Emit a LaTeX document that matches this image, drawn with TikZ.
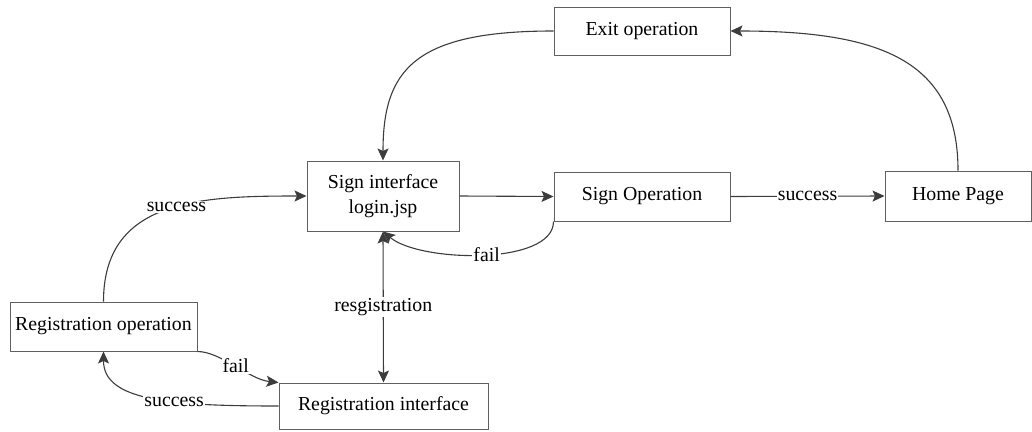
\documentclass[tikz,border=0pt]{standalone}
\usepackage{fontspec}
\setmainfont{Liberation Serif}
\usetikzlibrary{arrows.meta}
\definecolor{edgecol}{HTML}{3C3C3C}
\definecolor{boxcol}{HTML}{606060}
\begin{document}
\begin{tikzpicture}[x=1pt,y=-1pt,
  font=\rmfamily\fontsize{19.8}{25}\selectfont,
  box/.style={draw=boxcol,line width=1pt,fill=white,align=center,inner sep=0pt},
  conn/.style={draw=edgecol,line width=1.1pt,-{Stealth[length=12pt,width=11pt,inset=2.5pt]}},
  lbl/.style={fill=white,inner sep=1pt}]
\useasboundingbox (0,0) rectangle (1032,431);
\node[box,minimum width=176,minimum height=48] (exit) at (642,31) {Exit operation};
\node[box,minimum width=152,minimum height=70] (si) at (383,196) {Sign interface\\login.jsp};
\node[box,minimum width=176,minimum height=49] (so) at (642,196.5) {Sign Operation};
\node[box,minimum width=146,minimum height=50] (hp) at (958,196) {Home Page};
\node[box,minimum width=187,minimum height=49] (ro) at (103.5,326.5) {Registration operation};
\node[box,minimum width=209,minimum height=46] (ri) at (383.5,406) {Registration interface};

\draw[conn] (exit.west) .. controls +(-140,0) and +(0,-90) .. (si.north);
\draw[conn] (hp.north) .. controls +(0,-110) and +(150,0) .. (exit.east);
\draw[conn] (si.east) -- (so.west);
\draw[conn] (so.east) -- node[lbl] {success} (hp.west);
\draw[conn] (so.south west) .. controls +(0,44) and +(37,31) .. node[lbl,pos=0.48] {fail} (si.south);
\draw[conn,{Stealth[length=12pt,width=11pt,inset=2.5pt]}-{Stealth[length=12pt,width=11pt,inset=2.5pt]}] (si.south) -- node[lbl] {resgistration} (ri.north);
\draw[conn] (ro.north) .. controls +(0,-102) and +(-107,0) .. node[lbl,pos=0.55] {success} (si.west);
\draw[conn] (ro.south east) .. controls +(23,0) and +(-29,-3) .. node[lbl,pos=0.5] {fail} (ri.north west);
\draw[conn] (ri.west) .. controls +(-109,0) and +(0,49) .. node[lbl,pos=0.38] {success} (ro.south);
\end{tikzpicture}
\end{document}
